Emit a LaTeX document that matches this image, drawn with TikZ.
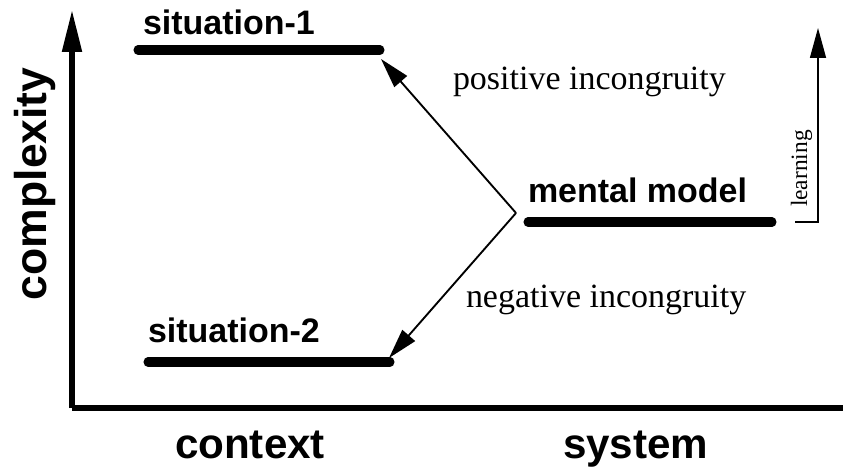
\documentclass[tikz,border=0pt]{standalone}
\usepackage{fontspec}
\setmainfont{Liberation Serif}
\setsansfont{Liberation Sans}
\usetikzlibrary{arrows.meta}

\begin{document}
\begin{tikzpicture}[x=0.03cm, y=0.03cm,
	every node/.style={inner sep=0pt, outer sep=0pt},
	bar/.style={line width=7.7pt, line cap=round},
	axis/.style={line width=4.3pt, -{Triangle[length=1.26cm, width=0.57cm]}},
	incarrow/.style={line width=1.6pt, -{Triangle[length=0.9cm, width=0.5cm]}},
	barlabel/.style={anchor=base west, font=\sffamily\bfseries\fontsize{29}{34}\selectfont},
	axislabel/.style={anchor=base west, font=\sffamily\bfseries\fontsize{36}{42}\selectfont},
	incnote/.style={anchor=base west, font=\rmfamily\fontsize{29}{34}\selectfont}]
	\useasboundingbox (0,0) rectangle (843,469);
	% Axes
	\coordinate (origin) at (72,61);
	\coordinate (ytop) at (72,459);
	\coordinate (xend) at (843,61);
	\draw[line width=4.3pt] (origin) -- (xend);
	\draw[axis] (origin) -- (ytop);
	\node[axislabel] (context) at (175,11) {context};
	\node[axislabel] (system) at (563,11) {system};
	\node[anchor=base west, rotate=90, font=\sffamily\bfseries\fontsize{38}{44}\selectfont] (complexity) at (46,169) {complexity};
	% Bars
	\coordinate (s1l) at (138,419);
	\coordinate (s1r) at (380,419);
	\coordinate (s2l) at (148,107);
	\coordinate (s2r) at (390,107);
	\coordinate (mml) at (528,247);
	\coordinate (mmr) at (772,247);
	\draw[bar] (s1l) -- (s1r);
	\draw[bar] (s2l) -- (s2r);
	\draw[bar] (mml) -- (mmr);
	\node[barlabel] (sit1) at (143,434) {situation-1};
	\node[barlabel] (sit2) at (148,127) {situation-2};
	\node[barlabel] (mm) at (528,267) {mental model};
	% Incongruity arrows
	\coordinate (vtx) at (516,256);
	\coordinate (tip1) at (381,410);
	\coordinate (tip2) at (389,111);
	\draw[incarrow] (vtx) -- (tip1);
	\draw[incarrow] (vtx) -- (tip2);
	\node[incnote] (pos) at (453,379) {positive incongruity};
	\node[incnote] (neg) at (466,162) {negative incongruity};
	% Learning
	\coordinate (lfoot) at (795,247);
	\coordinate (lcorner) at (818,247);
	\coordinate (ltop) at (818,441);
	\draw[line width=1.3pt, -{Triangle[length=0.9cm, width=0.48cm]}] (lfoot) -- (lcorner) -- (ltop);
	\node[anchor=base west, rotate=90, font=\rmfamily\fontsize{20}{24}\selectfont] (learn) at (807,262) {learning};
\end{tikzpicture}
\end{document}
